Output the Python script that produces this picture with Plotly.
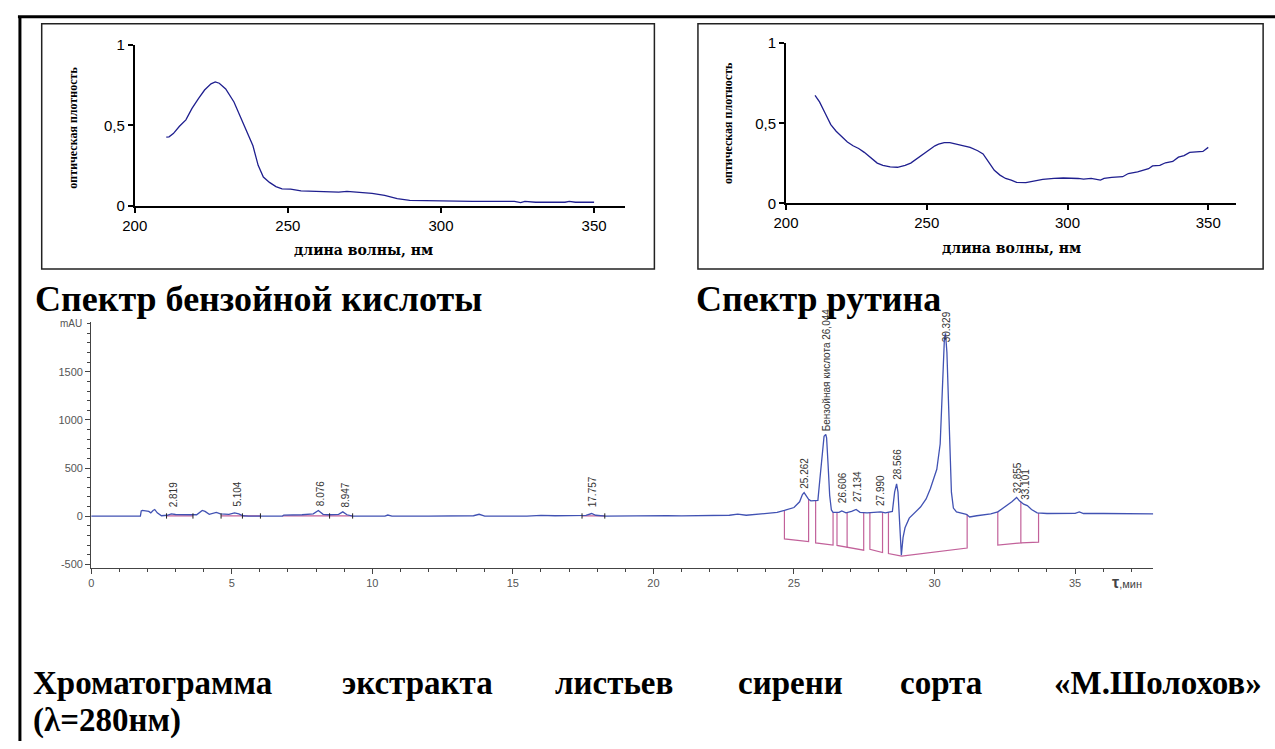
import plotly.graph_objects as go

W, H = 1275, 749


def px(x):
    return x / W


def py(y):
    return 1 - y / H


# ---------------- data ----------------
benz_wl = [210.3, 211.2, 212.6, 214.6, 216.7, 218.7, 220.8, 222.8, 224.9, 226.3, 227.6, 229.7,
           232.4, 234.5, 236.5, 238.6, 240.3, 242.0, 244.0, 246.1, 248.1, 250.9, 254.3, 258.4,
           263.9, 266.6, 269.3, 273.4, 277.5, 281.6, 285.7, 289.8, 296.7, 303.5, 310.3, 324.0,
           326.0, 327.4, 330.9, 340.5, 341.9, 343.9, 350.0]
benz_od = [0.428, 0.43, 0.45, 0.495, 0.535, 0.606, 0.667, 0.72, 0.758, 0.77, 0.762, 0.727,
           0.646, 0.556, 0.475, 0.374, 0.253, 0.18, 0.147, 0.121, 0.107, 0.105, 0.095, 0.091,
           0.085, 0.087, 0.091, 0.087, 0.079, 0.067, 0.046, 0.036, 0.034, 0.03, 0.03, 0.03,
           0.022, 0.03, 0.024, 0.024, 0.03, 0.024, 0.024]

rutin_wl = [210.3, 211.9, 213.9, 215.9, 217.8, 219.8, 221.8, 223.8, 225.8, 227.8, 229.7, 232.4,
            234.4, 237.0, 239.6, 242.3, 244.3, 246.3, 248.9, 250.9, 252.9, 254.2, 256.2, 258.2,
            260.2, 262.8, 265.4, 268.1, 270.0, 272.0, 274.0, 276.0, 278.0, 280.0, 281.9, 285.2,
            287.9, 291.2, 295.2, 298.5, 303.8, 305.7, 308.4, 310.4, 311.7, 313.0, 315.7, 319.6,
            321.6, 324.9, 326.9, 328.8, 330.2, 332.8, 334.8, 337.4, 339.4, 341.4, 343.4, 346.1,
            348.1, 350.0]
rutin_od = [0.675, 0.634, 0.563, 0.492, 0.451, 0.417, 0.384, 0.36, 0.343, 0.319, 0.289, 0.252,
            0.238, 0.228, 0.226, 0.238, 0.252, 0.278, 0.309, 0.339, 0.36, 0.37, 0.38, 0.38,
            0.372, 0.36, 0.35, 0.329, 0.309, 0.258, 0.207, 0.177, 0.156, 0.146, 0.132, 0.13,
            0.14, 0.15, 0.156, 0.159, 0.156, 0.152, 0.156, 0.152, 0.146, 0.156, 0.163, 0.167,
            0.187, 0.197, 0.207, 0.217, 0.234, 0.238, 0.254, 0.262, 0.289, 0.299, 0.319, 0.325,
            0.325, 0.35]

chrom_t = [0, 1.75, 1.78, 1.82, 2.05, 2.12, 2.2, 2.26, 2.35, 2.5, 2.7, 2.85, 3.0, 3.3, 3.6,
           3.75, 3.95, 4.05, 4.2, 4.45, 4.6, 4.9, 5.1, 5.25, 5.4, 5.6, 6.0, 6.8, 6.85, 7.5, 7.9,
           8.08, 8.25, 8.45, 8.8, 8.95, 9.1, 9.3, 10.0, 10.45, 10.55, 10.7, 12.0, 13.6, 13.8,
           14.0, 15.5, 16.0, 16.5, 17.3, 17.6, 17.8, 17.95, 18.3, 19.0, 19.2, 19.4, 20.5, 21.0,
           22.7, 23.0, 23.3, 24.0, 24.4, 24.66, 25.0, 25.2, 25.3, 25.36, 25.45, 25.52, 25.6,
           25.85, 25.92, 25.99, 26.07, 26.13, 26.16, 26.21, 26.27, 26.33, 26.39, 26.6, 26.7,
           26.85, 27.05, 27.21, 27.35, 27.6, 28.0, 28.09, 28.25, 28.5, 28.58, 28.65, 28.7,
           28.75, 28.82, 28.88, 28.95, 29.1, 29.25, 29.5, 29.7, 29.85, 30.08, 30.2, 30.28,
           30.35, 30.39, 30.44, 30.5, 30.55, 30.6, 30.67, 30.78, 31.13, 31.25, 31.5, 32.0,
           32.25, 32.5, 32.75, 32.92, 33.02, 33.17, 33.3, 33.45, 33.65, 34.0, 34.8, 35.0,
           35.15, 35.3, 36.0, 37.78]
chrom_mau = [0, 0, 55, 60, 50, 35, 60, 70, 35, 5, 10, 25, 18, 15, 10,
             15, 60, 50, 20, 40, 25, 20, 35, 25, 5, 0, 0, 0, 12, 15, 25,
             60, 20, 15, 20, 45, 15, 0, 0, 0, 12, 0, 0, 5, 20,
             2, 2, 8, 5, 10, 8, 28, 10, 0, 3, 8, 3, 5, 3,
             10, 22, 10, 25, 40, 60, 90, 150, 225, 245, 200, 175, 160,
             165, 380, 620, 830, 850, 815, 550, 215, 65, 40, 40, 55,
             35, 50, 70, 40, 35, 38, 45, 35, 50, 250, 336, 250,
             0, -404, -220, -120, -20, 20, 95, 180, 286, 488, 750, 1330,
             1840, 1900, 1700, 1150, 600, 250, 85, 45, 20, -8, 5, 25,
             45, 95, 150, 195, 160, 125, 110, 70, 35, 28, 30, 30,
             45, 28, 28, 25]

# integration baselines (pink polylines)
base_t = [[24.66, 24.66, 25.52, 25.52],
          [25.77, 25.77, 26.39, 26.39],
          [26.53, 26.53, 27.48, 27.48],
          [26.89, 26.89],
          [27.70, 27.70, 28.15, 28.15],
          [28.36, 28.36, 28.83, 31.16, 31.16],
          [32.25, 32.25, 33.07, 33.07],
          [33.07, 33.70, 33.70]]
base_mau = [[60, -236, -263, 175],
            [163, -277, -300, 40],
            [45, -303, -353, 37],
            [40, -327],
            [36, -343, -377, 40],
            [40, -387, -414, -330, 20],
            [48, -300, -277, 150],
            [-277, -270, 33]]

zero_base_start = [2.68, 4.62, 6.80, 8.48, 17.46]
zero_base_end = [3.62, 6.02, 8.48, 9.30, 18.27]
zero_base_level = [4, 4, 4, 4, 3]
marks_t = [2.68, 3.62, 4.62, 5.38, 6.02, 8.48, 9.30, 17.46, 18.27]

peak_labels = ["2.819", "5.104", "8.076", "8.947", "17.757", "25.262",
               "Бензойная кислота 26,044", "26.606", "27.134", "27.990", "28.566",
               "30.329", "32.855", "33.101"]
peak_label_t = [2.819, 5.104, 8.076, 8.947, 17.757, 25.262, 26.044, 26.606, 27.134,
                27.990, 28.566, 30.329, 32.855, 33.101]
peak_label_mau = [71, 81, 81, 71, 71, 263, 859, 111, 131, 81, 354, 1788, 222, 152]

spec_xticks = [200, 250, 300, 350]
spec_yticks = [0, 0.5, 1]
spec_yticktext = ["0", "0,5", "1"]
chrom_xticks = [0, 5, 10, 15, 20, 25, 30, 35]
chrom_yticks = [-500, 0, 500, 1000, 1500]
chrom_yticktext = ["-500", "0", "500", "1000", "1500"]

# ---------------- figure ----------------
SPEC_BLUE = "#1f1f8f"
CHROM_BLUE = "#4152b3"
PINK = "#c2619a"

fig = go.Figure()
fig.add_trace(go.Scatter(x=benz_wl, y=benz_od, mode="lines", xaxis="x", yaxis="y",
                         line=dict(color=SPEC_BLUE, width=1.3)))
fig.add_trace(go.Scatter(x=rutin_wl, y=rutin_od, mode="lines", xaxis="x2", yaxis="y2",
                         line=dict(color=SPEC_BLUE, width=1.3)))

# pink integration baselines
bx, by = [], []
for ts, vs in zip(base_t, base_mau):
    bx += ts + [None]
    by += vs + [None]
for s, e, lv in zip(zero_base_start, zero_base_end, zero_base_level):
    bx += [s, e, None]
    by += [lv, lv, None]
fig.add_trace(go.Scatter(x=bx, y=by, mode="lines", xaxis="x3", yaxis="y3",
                         line=dict(color=PINK, width=1.2)))

fig.add_trace(go.Scatter(x=chrom_t, y=chrom_mau, mode="lines", xaxis="x3", yaxis="y3",
                         line=dict(color=CHROM_BLUE, width=1.3)))

mx, my = [], []
for t in marks_t:
    mx += [t, t, None]
    my += [-25, 30, None]
fig.add_trace(go.Scatter(x=mx, y=my, mode="lines", xaxis="x3", yaxis="y3",
                         line=dict(color="#222222", width=1)))

spec_tickfont = dict(family="Liberation Sans, Arial", size=15, color="black")
spec_x = dict(range=[200, 360], tickvals=spec_xticks, showline=True, linecolor="black",
              linewidth=2, ticks="outside", ticklen=5, tickwidth=2, tickcolor="black",
              showgrid=False, zeroline=False, tickfont=spec_tickfont, fixedrange=True)
spec_y = dict(range=[0, 1], tickvals=spec_yticks, ticktext=spec_yticktext, showline=True,
              linecolor="black", linewidth=2, ticks="outside", ticklen=5, tickwidth=2,
              tickcolor="black", showgrid=False, zeroline=False, tickfont=spec_tickfont,
              fixedrange=True)

chrom_tickfont = dict(family="Liberation Sans, Arial", size=11, color="#555555")

fig.update_layout(
    width=W, height=H, margin=dict(l=0, r=0, t=0, b=0),
    paper_bgcolor="white", plot_bgcolor="rgba(0,0,0,0)", showlegend=False,
    xaxis=dict(spec_x, domain=[px(123), px(618)], anchor="y"),
    yaxis=dict(spec_y, domain=[py(201.7), py(36.7)], anchor="x"),
    xaxis2=dict(spec_x, domain=[px(781), px(1236)], anchor="y2"),
    yaxis2=dict(spec_y, domain=[py(199), py(35)], anchor="x2"),
    xaxis3=dict(domain=[px(79), px(1152)], anchor="y3", range=[0, 37.78],
                tickvals=chrom_xticks, showline=True, linecolor="#444444", linewidth=1,
                ticks="outside", ticklen=5, tickcolor="#444444", showgrid=False,
                zeroline=False, tickfont=chrom_tickfont,
                minor=dict(dtick=1, ticks="outside", ticklen=3, tickcolor="#444444")),
    yaxis3=dict(domain=[py(571.7), py(320)], anchor="x3", range=[-535, 2020],
                tickvals=chrom_yticks, ticktext=chrom_yticktext, showline=True,
                linecolor="#444444", linewidth=1, ticks="outside", ticklen=5,
                tickcolor="#444444", showgrid=False, zeroline=False, tickfont=chrom_tickfont,
                minor=dict(dtick=100, ticks="outside", ticklen=3, tickcolor="#444444")),
)

shapes = [
    dict(type="line", xref="paper", yref="paper", x0=px(5), x1=px(1275), y0=py(8), y1=py(8),
         line=dict(color="black", width=3)),
    dict(type="line", xref="paper", yref="paper", x0=px(7), x1=px(7), y0=py(8), y1=py(749),
         line=dict(color="black", width=3)),
    dict(type="rect", xref="paper", yref="paper", x0=px(29), x1=px(648), y0=py(266), y1=py(15),
         line=dict(color="#222222", width=1.5)),
    dict(type="rect", xref="paper", yref="paper", x0=px(692), x1=px(1263), y0=py(266), y1=py(15),
         line=dict(color="#222222", width=1.5)),
]
fig.update_layout(shapes=shapes)

serif = "Liberation Serif, Times New Roman, serif"
ann = []
# spectrum axis titles
for cx, cy in [(61, 121), (723, 117)]:
    ann.append(dict(xref="paper", yref="paper", x=px(cx), y=py(cy), text="<b>оптическая плотность</b>",
                    textangle=-90, showarrow=False, xanchor="center", yanchor="middle",
                    font=dict(family=serif, size=12, color="black")))
for cx, cy in [(354, 247), (1009, 245)]:
    ann.append(dict(xref="paper", yref="paper", x=px(cx), y=py(cy), text="<b>длина волны, нм</b>",
                    showarrow=False, xanchor="center", yanchor="middle",
                    font=dict(family="DejaVu Serif, serif", size=14, color="black")))
# headings
ann.append(dict(xref="paper", yref="paper", x=px(20), y=py(297), text="<b>Спектр бензойной кислоты</b>",
                showarrow=False, xanchor="left", yanchor="middle",
                font=dict(family=serif, size=36, color="black")))
ann.append(dict(xref="paper", yref="paper", x=px(688), y=py(297), text="<b>Спектр рутина</b>",
                showarrow=False, xanchor="left", yanchor="middle",
                font=dict(family=serif, size=36, color="black")))
# bottom caption, justified words
words = ["Хроматограмма", "экстракта", "листьев", "сирени", "сорта", "«М.Шолохов»"]
word_x = [18, 330, 546, 730, 894, 1264]
for i, (wd, wx) in enumerate(zip(words, word_x)):
    ann.append(dict(xref="paper", yref="paper", x=px(wx), y=py(690), text="<b>" + wd + "</b>",
                    showarrow=False, xanchor="right" if i == len(words) - 1 else "left",
                    yanchor="middle", font=dict(family=serif, size=33, color="black")))
ann.append(dict(xref="paper", yref="paper", x=px(18), y=py(728), text="<b>(λ=280нм)</b>",
                showarrow=False, xanchor="left", yanchor="middle",
                font=dict(family=serif, size=33, color="black")))
# chromatogram texts
ann.append(dict(xref="paper", yref="paper", x=px(72), y=py(322), text="mAU", showarrow=False,
                xanchor="right", yanchor="middle",
                font=dict(family="Liberation Sans, Arial", size=10, color="#555555")))
ann.append(dict(xref="paper", yref="paper", x=px(1108), y=py(587),
                text="<b><span style='font-size:16px'>τ</span></b>,мин", showarrow=False,
                xanchor="left", yanchor="middle",
                font=dict(family="Liberation Sans, Arial", size=11, color="#444444")))
for lab, t, v in zip(peak_labels, peak_label_t, peak_label_mau):
    ann.append(dict(xref="x3", yref="y3", x=t, y=v, text=lab, textangle=-90, showarrow=False,
                    xanchor="center", yanchor="bottom", xshift=3,
                    font=dict(family="Liberation Sans, Arial", size=10, color="#333333")))
fig.update_layout(annotations=ann)

fig.write_html("out.html")
